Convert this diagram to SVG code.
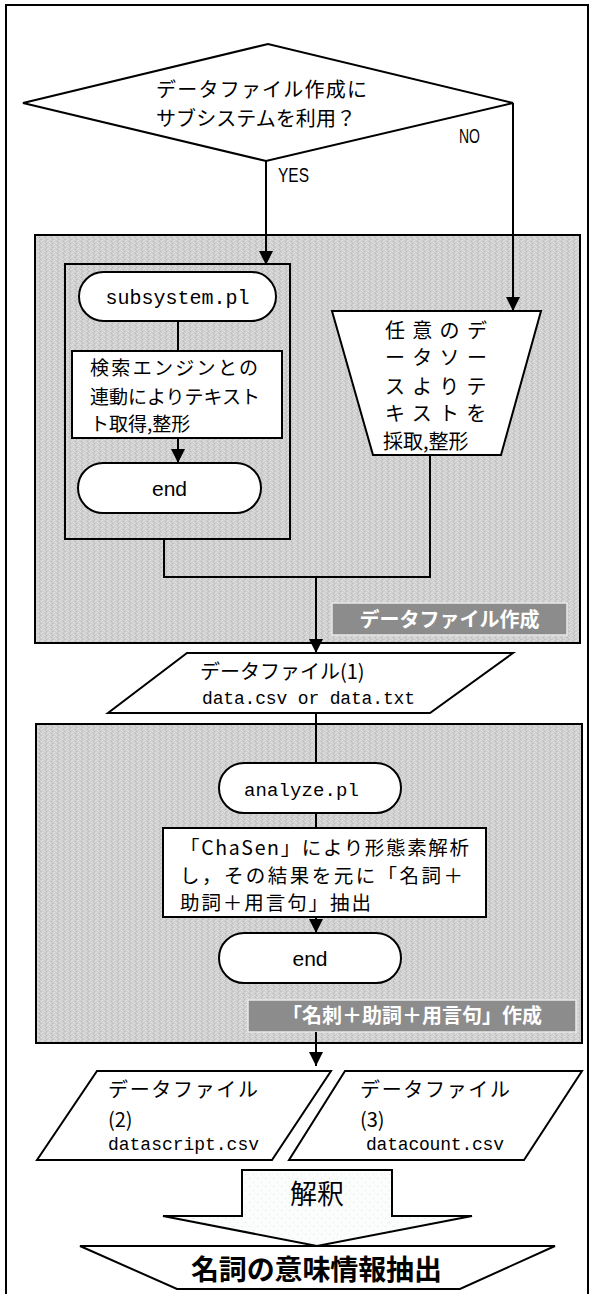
<svg xmlns="http://www.w3.org/2000/svg" width="592" height="1294" viewBox="0 0 592 1294">
<style>
.ln{fill:none;stroke:#000;stroke-width:2}
.nd{fill:#fff;stroke:#000;stroke-width:2}
.jp{font-family:"Noto Sans CJK JP","Liberation Sans",sans-serif;fill:#000}
.mono{font-family:"Liberation Mono","DejaVu Sans Mono",monospace;fill:#000}
.sans{font-family:"Liberation Sans",Arial,sans-serif;fill:#000}
.lbl{font-family:"Noto Sans CJK JP",sans-serif;font-weight:bold;fill:#fff}
</style>
<defs>
<pattern id="tex" width="6" height="4" patternUnits="userSpaceOnUse">
<rect width="6" height="4" fill="#cfcfcf"/>
<rect x="0" y="0" width="1" height="1" fill="#e6e6e6"/>
<rect x="3" y="1" width="1" height="1" fill="#b8b8b8"/>
<rect x="1" y="2" width="1" height="1" fill="#e2e2e2"/>
<rect x="4" y="3" width="1" height="1" fill="#bcbcbc"/>
<rect x="5" y="1" width="1" height="1" fill="#e0e0e0"/>
<rect x="2" y="3" width="1" height="1" fill="#dedede"/>
</pattern>
<pattern id="dots" width="8" height="8" patternUnits="userSpaceOnUse">
<rect width="8" height="8" fill="#fbfcfc"/>
<rect x="1" y="2" width="1" height="1" fill="#d8eaee"/>
<rect x="5" y="6" width="1" height="1" fill="#d8eaee"/>
</pattern>
<marker id="ar" viewBox="0 0 14 15" refX="14" refY="7" markerWidth="14" markerHeight="15" markerUnits="userSpaceOnUse" orient="auto">
<path d="M0,0 L14,7 L0,14 Z" fill="#000"/>
</marker>
</defs>
<rect x="6" y="5" width="582" height="1300" fill="#fff" stroke="#000" stroke-width="2"/>
<g id="group-datafile">
<rect x="35" y="235" width="545" height="408" fill="url(#tex)" stroke="#000" stroke-width="2"/>
<rect x="332" y="603" width="235" height="32" fill="#8c8c8c" stroke="#e8e8e8" stroke-width="1.5"/>
<text class="lbl" x="449.5" y="627" font-size="20" text-anchor="middle">データファイル作成</text>
</g>
<g id="group-analyze">
<rect x="36" y="724" width="546" height="319" fill="url(#tex)" stroke="#000" stroke-width="2"/>
<rect x="248" y="1000" width="328" height="32" fill="#8c8c8c" stroke="#e8e8e8" stroke-width="1.5"/>
<text class="lbl" x="412" y="1023" font-size="20" text-anchor="middle">「名刺＋助詞＋用言句」作成</text>
</g>
<g id="subsystem-container">
<rect x="65" y="264" width="225" height="275" class="ln"/>
</g>
<g id="connectors">
<line class="ln" x1="266" y1="161" x2="266" y2="265" marker-end="url(#ar)"/>
<line class="ln" x1="513" y1="103" x2="513" y2="311" marker-end="url(#ar)"/>
<line class="ln" x1="178" y1="321" x2="178" y2="351"/>
<line class="ln" x1="178" y1="438" x2="178" y2="463" marker-end="url(#ar)"/>
<polyline class="ln" points="164,539 164,577 430,577 430,455"/>
<line class="ln" x1="316" y1="577" x2="316" y2="653" marker-end="url(#ar)"/>
<line class="ln" x1="316" y1="713" x2="316" y2="763"/>
<line class="ln" x1="316" y1="813" x2="316" y2="828"/>
<line class="ln" x1="316" y1="917" x2="316" y2="933" marker-end="url(#ar)"/>
<line class="ln" x1="316" y1="1032" x2="316" y2="1066" marker-end="url(#ar)"/>
</g>
<g id="decision">
<polygon class="nd" points="23,103 268,44 513,103 266,161"/>
<text class="jp" x="156" y="96.5" font-size="20" textLength="211">データファイル作成に</text>
<text class="jp" x="156" y="125.5" font-size="20" textLength="200">サブシステムを利用？</text>
<text class="sans" x="278" y="182" font-size="21" textLength="31" lengthAdjust="spacingAndGlyphs">YES</text>
<text class="sans" x="459" y="143" font-size="20" textLength="21" lengthAdjust="spacingAndGlyphs">NO</text>
</g>
<g id="subsystem-start">
<rect class="nd" x="79" y="272" width="197" height="49" rx="24.5"/>
<text class="mono" x="177.5" y="304" font-size="20" text-anchor="middle">subsystem.pl</text>
</g>
<g id="subsystem-process">
<rect class="nd" x="72" y="351" width="210" height="87"/>
<text class="jp" x="90" y="374.5" font-size="19" textLength="168">検索エンジンとの</text>
<text class="jp" x="90" y="403.5" font-size="19" textLength="170">連動によりテキスト</text>
<text class="jp" x="90" y="430.5" font-size="19">ト取得,整形</text>
</g>
<g id="subsystem-end">
<rect class="nd" x="78" y="463" width="183" height="50" rx="25"/>
<text class="sans" x="169.5" y="496" font-size="21" text-anchor="middle">end</text>
</g>
<g id="manual-source">
<polygon class="nd" points="332,311 541,311 501,455 373,455"/>
<text class="jp" x="385" y="337.5" font-size="20" letter-spacing="7.3">任意のデ</text>
<text class="jp" x="385" y="364.5" font-size="20" letter-spacing="7.3">ータソー</text>
<text class="jp" x="385" y="393.5" font-size="20" letter-spacing="7.3">スよりテ</text>
<text class="jp" x="385" y="420.5" font-size="20" letter-spacing="7.3">キストを</text>
<text class="jp" x="383" y="448.5" font-size="20">採取,整形</text>
</g>
<g id="datafile1">
<polygon class="nd" points="187,653 513,653 430,713 108,713"/>
<text class="jp" x="200" y="678.5" font-size="20">データファイル(1)</text>
<text class="mono" x="202" y="704" font-size="18" textLength="213">data.csv or data.txt</text>
</g>
<g id="analyze-start">
<rect class="nd" x="219" y="763" width="182" height="50" rx="25"/>
<text class="mono" x="244" y="796" font-size="19" textLength="115">analyze.pl</text>
</g>
<g id="analyze-process">
<rect class="nd" x="163" y="828" width="323" height="89"/>
<text class="jp" x="180" y="855" font-size="19.5" textLength="289">「ChaSen」により形態素解析</text>
<text class="jp" x="180" y="883" font-size="19.5" textLength="283">し，その結果を元に「名詞＋</text>
<text class="jp" x="180" y="910" font-size="19.5" textLength="191">助詞＋用言句」抽出</text>
</g>
<g id="analyze-end">
<rect class="nd" x="219" y="933" width="182" height="50" rx="25"/>
<text class="sans" x="310" y="966" font-size="21" text-anchor="middle">end</text>
</g>
<g id="datafile2">
<polygon class="nd" points="97,1071 331,1071 272,1160 37,1160"/>
<text class="jp" x="108" y="1096.5" font-size="20" textLength="150">データファイル</text>
<text class="jp" x="108" y="1127" font-size="20">(2)</text>
<text class="mono" x="108" y="1150" font-size="18" textLength="151">datascript.csv</text>
</g>
<g id="datafile3">
<polygon class="nd" points="345,1071 582,1071 524,1160 289,1160"/>
<text class="jp" x="360" y="1096.5" font-size="20" textLength="150">データファイル</text>
<text class="jp" x="360" y="1127" font-size="20">(3)</text>
<text class="mono" x="366" y="1150" font-size="18" textLength="138">datacount.csv</text>
</g>
<g id="interpret">
<polygon points="242,1170 392,1170 392,1216 472,1216 317,1246 163,1216 242,1216" fill="url(#dots)" stroke="#000" stroke-width="2"/>
<text class="jp" x="317" y="1204" font-size="27" text-anchor="middle">解釈</text>
</g>
<g id="result">
<polygon points="80,1246 555,1246 460,1289 177,1289" fill="#fff" stroke="#000" stroke-width="2"/>
<text class="jp" x="316.5" y="1280" font-size="28" font-weight="bold" text-anchor="middle" textLength="251">名詞の意味情報抽出</text>
</g>
</svg>
